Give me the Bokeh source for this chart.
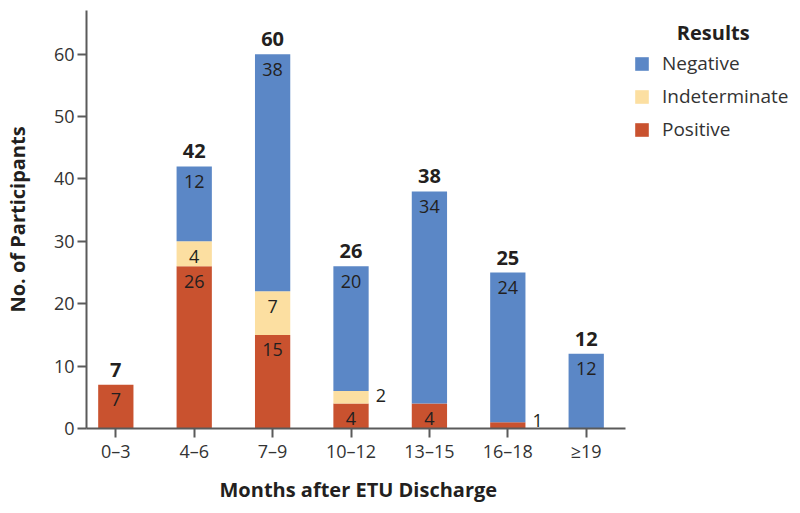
from bokeh.plotting import figure
from bokeh.models import (ColumnDataSource, Range1d, FixedTicker, Legend, LegendItem,
                          Label, Title)
from bokeh.core.properties import value
from bokeh.embed import file_html
from bokeh.resources import INLINE

# ---- data ----
categories = ["0–3", "4–6", "7–9", "10–12", "13–15", "16–18", "≥19"]
positive = [7, 26, 15, 4, 4, 1, 0]
indeterminate = [0, 4, 7, 2, 0, 0, 0]
negative = [0, 12, 38, 20, 34, 24, 12]
y_ticks = [0, 10, 20, 30, 40, 50, 60]
series_names = ["Positive", "Indeterminate", "Negative"]
colors = ["#C9522F", "#FCDFA1", "#5B87C6"]

FONT = "Open Sans"
TXT = "#231F20"
LBL = "#333333"
AX = "#5A5A5A"
BAR_W = 0.45
X_START, X_AXIS_END, X_END = -0.374, 6.505, 8.593

xs = list(range(len(categories)))
totals = [a + b + c for a, b, c in zip(positive, indeterminate, negative)]
source = ColumnDataSource(dict(x=xs, Positive=positive,
                               Indeterminate=indeterminate, Negative=negative))

p = figure(frame_width=703, frame_height=418,
           min_border_left=81, min_border_right=0,
           min_border_top=10, min_border_bottom=77,
           x_range=Range1d(X_START, X_END), y_range=Range1d(0, 67),
           output_backend="svg", toolbar_location=None, tools="")
p.outline_line_color = None
p.grid.visible = False
p.background_fill_color = "white"
p.border_fill_color = "white"

renderers = p.vbar_stack(series_names, x="x", width=BAR_W, color=colors,
                         line_color=None, source=source)

# ---- segment labels ----
in_x, in_y, in_t = [], [], []
out_x, out_y, out_t = [], [], []
for i in xs:
    base = 0
    for vals in (positive, indeterminate, negative):
        v = vals[i]
        if v > 0:
            top = base + v
            if v >= 3:
                in_x.append(i); in_y.append(top); in_t.append(str(v))
            else:
                out_x.append(i + BAR_W / 2); out_y.append(base); out_t.append(str(v))
            base = top

p.text(x=in_x, y=in_y, text=in_t, text_align="center", text_baseline="alphabetic",
       y_offset=15, text_font=value(FONT), text_font_size="18px", text_color=TXT)
p.text(x=out_x, y=out_y, text=out_t, text_align="left", text_baseline="alphabetic",
       x_offset=7, y_offset=-8, text_font=value(FONT), text_font_size="18px", text_color=TXT)
p.text(x=xs, y=totals, text=[str(t) for t in totals], text_align="center",
       text_baseline="alphabetic", y_offset=-15, text_font=value(FONT),
       text_font_size="20px", text_font_style="bold", text_color=TXT)

# ---- axes ----
for ax in (p.xaxis[0], p.yaxis[0]):
    ax.axis_line_color = AX
    ax.axis_line_width = 2
    ax.major_tick_line_color = AX
    ax.major_tick_line_width = 2
    ax.major_tick_out = 9
    ax.major_tick_in = 0
    ax.minor_tick_line_color = None
    ax.major_label_text_font = FONT
    ax.major_label_text_font_size = "18px"
    ax.major_label_text_color = LBL
    ax.axis_label_text_font = FONT
    ax.axis_label_text_font_size = "20px"
    ax.axis_label_text_font_style = "bold"
    ax.axis_label_text_color = TXT

p.xaxis.ticker = FixedTicker(ticks=xs)
p.xaxis.bounds = (X_START, X_AXIS_END)
p.xaxis.major_label_overrides = {i: c for i, c in enumerate(categories)}
p.xaxis.major_label_standoff = 1
p.yaxis.ticker = FixedTicker(ticks=y_ticks)
p.yaxis.axis_label = "No. of Participants"
p.yaxis.major_label_standoff = 3
p.yaxis.axis_label_standoff = 20

p.add_layout(Title(text="Months after ETU Discharge", align="left", offset=133,
                   standoff=16, text_font=FONT, text_font_size="20px",
                   text_font_style="bold", text_color=TXT), "below")

# ---- legend ----
items = [LegendItem(label=name, renderers=[r])
         for name, r in zip(series_names[::-1], renderers[::-1])]
legend = Legend(items=items, location=(547, 286), margin=0, padding=6,
                border_line_color=None, background_fill_alpha=0,
                glyph_width=17, glyph_height=17, label_standoff=12,
                label_height=26, spacing=7,
                label_text_font=FONT, label_text_font_size="19px",
                label_text_color=LBL)
p.add_layout(legend)
p.add_layout(Label(x=7.62, y=63.4, text="Results", text_align="center",
                   text_baseline="middle", text_font=FONT, text_font_size="20px",
                   text_font_style="bold", text_color=TXT))

open("out.html", "w").write(file_html(p, INLINE))
